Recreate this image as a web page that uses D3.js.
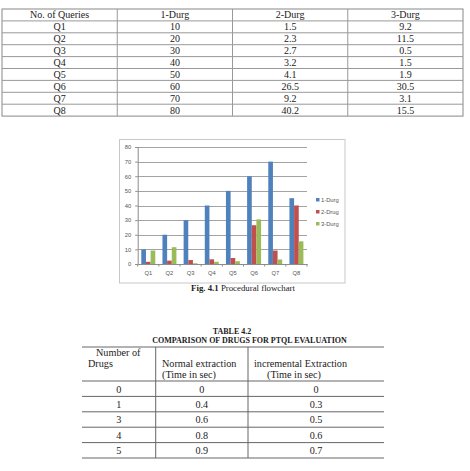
<!DOCTYPE html>
<html><head><meta charset="utf-8">
<script src="https://cdn.jsdelivr.net/npm/d3@7/dist/d3.min.js"></script>
<style>body{margin:0;background:#fff}svg{display:block}</style>
</head><body>
<script>
// ---- data ----
const queries = ["Q1","Q2","Q3","Q4","Q5","Q6","Q7","Q8"];
const table1Header = ["No. of Queries","1-Durg","2-Durg","3-Durg"];
const table1Drug1 = ["10","20","30","40","50","60","70","80"];
const table1Drug2 = ["1.5","2.3","2.7","3.2","4.1","26.5","9.2","40.2"];
const table1Drug3 = ["9.2","11.5","0.5","1.5","1.9","30.5","3.1","15.5"];

const seriesNames = ["1-Durg","2-Drug","3-Durg"];
const drug1 = [10,20,30,40,50,60,70,45];
const drug2 = [1.5,2.3,2.7,3.2,4.1,26.5,9.2,40];
const drug3 = [9.2,11.5,0.5,1.5,1.9,30.5,3.1,15.5];
const yTicks = [0,10,20,30,40,50,60,70,80];
const figCaptionBold = "Fig. 4.1";
const figCaptionText = " Procedural flowchart";

const table2Title = "TABLE 4.2";
const table2Subtitle = "COMPARISON OF DRUGS FOR PTQL EVALUATION";
const table2Drugs = ["0","1","3","4","5"];
const table2Normal = ["0","0.4","0.6","0.8","0.9"];
const table2Incr = ["0","0.3","0.5","0.6","0.7"];

const colors = ["#4F81BD","#C0504D","#9BBB59"];

const svg = d3.select("body").append("svg").attr("width",470).attr("height",471);
svg.append("rect").attr("width",470).attr("height",471).attr("fill","#fff");
const serif = "'Liberation Serif','Times New Roman',serif";

// ---- table 1 ----
(function(){
  const left=2, right=463, top=9, rowH=11.9;
  const colX = d3.scaleBand().domain([0,1,2,3]).range([left,right]);
  const rows = [table1Header].concat(queries.map((q,i)=>[q,table1Drug1[i],table1Drug2[i],table1Drug3[i]]));
  const g = svg.append("g");
  const bottom = top + rowH*rows.length;
  g.append("rect").attr("x",left).attr("y",top).attr("width",right-left).attr("height",bottom-top)
    .attr("fill","none").attr("stroke","#888").attr("stroke-width",1);
  for(let r=1;r<rows.length;r++){
    g.append("line").attr("x1",left).attr("x2",right).attr("y1",top+r*rowH).attr("y2",top+r*rowH)
      .attr("stroke","#999").attr("stroke-width",1);
  }
  for(let c=1;c<4;c++){
    g.append("line").attr("x1",colX(c)).attr("x2",colX(c)).attr("y1",top).attr("y2",bottom)
      .attr("stroke","#999").attr("stroke-width",1);
  }
  rows.forEach((row,r)=>{
    row.forEach((t,c)=>{
      g.append("text").attr("x",colX(c)+colX.bandwidth()/2).attr("y",top+r*rowH+rowH/2+3.5)
        .attr("text-anchor","middle").attr("font-family",serif).attr("font-size",10).attr("fill","#222").text(t);
    });
  });
})();

// ---- chart ----
(function(){
  svg.append("rect").attr("x",119.5).attr("y",139.5).attr("width",225.5).attr("height",143.5)
    .attr("fill","#fff").attr("stroke","#c8c8c8").attr("stroke-width",1);
  const x0 = d3.scaleBand().domain(queries).range([137.7,307]).paddingInner(0.34).paddingOuter(0.17);
  const x1 = d3.scaleBand().domain(seriesNames).range([0,x0.bandwidth()]);
  const y = d3.scaleLinear().domain([0,80]).range([264,147]);
  const sans = "'Liberation Sans',Arial,sans-serif";
  const g = svg.append("g");
  g.selectAll(".grid").data(yTicks.slice(1)).join("line")
    .attr("x1",137.7).attr("x2",307).attr("y1",d=>Math.round(y(d))+0.5).attr("y2",d=>Math.round(y(d))+0.5)
    .attr("stroke","#8c8c8c").attr("stroke-width",0.8);
  const yAxis = d3.axisLeft(y).tickValues(yTicks).tickSize(2.5).tickPadding(4);
  const ya = g.append("g").attr("transform","translate(137.7,0)").call(yAxis);
  ya.select(".domain").attr("stroke","#8c8c8c");
  ya.selectAll(".tick line").attr("stroke","#8c8c8c");
  ya.selectAll("text").attr("font-family",sans).attr("font-size",5.8).attr("fill","#555");
  const series = [drug1,drug2,drug3];
  series.forEach((vals,s)=>{
    g.selectAll(".b"+s).data(vals).join("rect")
      .attr("x",(d,i)=>x0(queries[i])+x1(seriesNames[s]))
      .attr("width",x1.bandwidth())
      .attr("y",d=>y(d)).attr("height",d=>y(0)-y(d)).attr("fill",colors[s]);
  });
  const xa = g.append("g").attr("transform","translate(0,264)").call(d3.axisBottom(x0).tickSize(0).tickPadding(7));
  xa.select(".domain").attr("stroke","#8c8c8c");
  xa.selectAll("text").attr("font-family",sans).attr("font-size",5.8).attr("fill","#555");
  const step = x0.step();
  g.selectAll(".xt").data(d3.range(queries.length+1)).join("line")
    .attr("x1",d=>137.7+d*step).attr("x2",d=>137.7+d*step).attr("y1",264).attr("y2",266.5)
    .attr("stroke","#8c8c8c");
  const lg = g.append("g");
  seriesNames.forEach((n,i)=>{
    lg.append("rect").attr("x",316).attr("y",198+i*12).attr("width",3.5).attr("height",3.5).attr("fill",colors[i]);
    lg.append("text").attr("x",321).attr("y",201.8+i*12).attr("font-family",sans).attr("font-size",5.8).attr("fill","#555").text(n);
  });
  const cap = svg.append("text").attr("x",243).attr("y",291).attr("text-anchor","middle")
    .attr("font-family",serif).attr("font-size",8.8).attr("fill","#222");
  cap.append("tspan").attr("font-weight","bold").text(figCaptionBold);
  cap.append("tspan").text(figCaptionText);
})();

// ---- table 2 ----
(function(){
  svg.append("text").attr("x",232).attr("y",334).attr("text-anchor","middle").attr("font-family",serif)
    .attr("font-weight","bold").attr("font-size",8).attr("fill","#222").text(table2Title);
  svg.append("text").attr("x",249.5).attr("y",343).attr("text-anchor","middle").attr("font-family",serif)
    .attr("font-weight","bold").attr("font-size",8).attr("fill","#222").text(table2Subtitle);
  const left=82, right=384, top=347, headB=381, rowH=15.4;
  const cols=[82,155.7,248,384];
  const g = svg.append("g");
  const bottom = headB + rowH*table2Drugs.length;
  g.append("line").attr("x1",left).attr("x2",right).attr("y1",top).attr("y2",top).attr("stroke","#666");
  g.append("line").attr("x1",left).attr("x2",right).attr("y1",headB).attr("y2",headB).attr("stroke","#666");
  for(let r=1;r<=table2Drugs.length;r++){
    g.append("line").attr("x1",left).attr("x2",right).attr("y1",headB+r*rowH).attr("y2",headB+r*rowH).attr("stroke","#666");
  }
  [1,2].forEach(c=>g.append("line").attr("x1",cols[c]).attr("x2",cols[c]).attr("y1",top).attr("y2",bottom).attr("stroke","#666"));
  const tf = (x,yy,t,anchor)=>g.append("text").attr("x",x).attr("y",yy).attr("text-anchor",anchor||"start")
    .attr("font-family",serif).attr("font-size",10.2).attr("fill","#222").text(t);
  tf(96,355.5,"Number of"); tf(88,366.5,"Drugs");
  tf(162,367,"Normal extraction"); tf(162,378,"(Time in sec)");
  tf(254,367,"incremental Extraction"); tf(267,378,"(Time in sec)");
  table2Drugs.forEach((d,i)=>{
    const yy = headB+i*rowH+rowH/2+3.8;
    tf((cols[0]+cols[1])/2,yy,d,"middle");
    tf((cols[1]+cols[2])/2,yy,table2Normal[i],"middle");
    tf((cols[2]+cols[3])/2,yy,table2Incr[i],"middle");
  });
})();
</script>
</body></html>
